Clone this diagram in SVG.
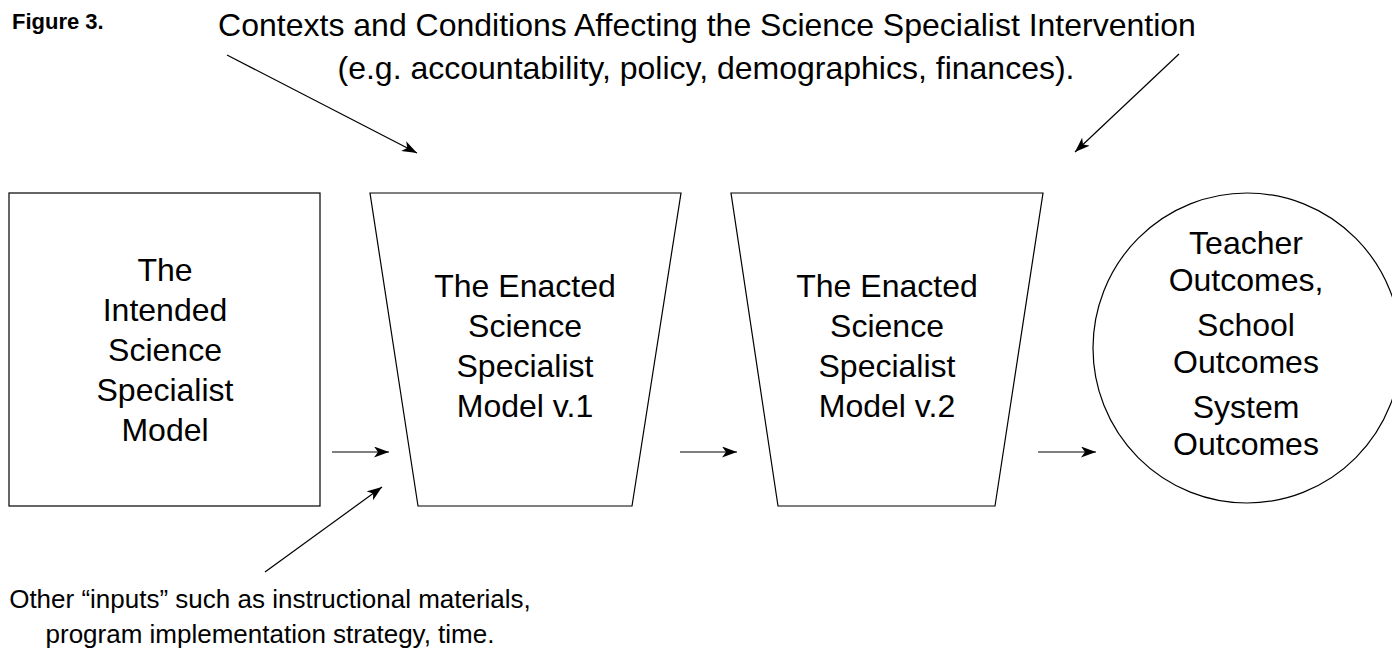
<svg xmlns="http://www.w3.org/2000/svg" width="1392" height="654" viewBox="0 0 1392 654">
<style>
.t{font-family:"Liberation Sans",Arial,Helvetica,sans-serif;font-size:32px;fill:#000;text-anchor:middle}
.b{font-size:26px}
.s{fill:#fff;stroke:#000;stroke-width:1.2}
.c{stroke:#000;stroke-width:1.2;fill:none;marker-end:url(#ah)}
</style>
<defs>
<marker id="ah" markerWidth="16" markerHeight="11" refX="15" refY="5.5" orient="auto" markerUnits="userSpaceOnUse">
<path d="M0,0 L15,5.5 L0,11 L4,5.5 z" fill="#000"/>
</marker>
</defs>
<rect width="1392" height="654" fill="#fff"/>
<g id="figlabel"><text x="12" y="29" style="font-family:'Liberation Sans',Arial,sans-serif;font-size:22px;font-weight:bold">Figure 3.</text></g>
<g id="contexts">
<text class="t" x="707" y="36">Contexts and Conditions Affecting the Science Specialist Intervention</text>
<text class="t" x="706" y="79">(e.g. accountability, policy, demographics, finances).</text>
</g>
<g id="intended">
<rect class="s" x="9" y="193" width="311" height="313"/>
<text class="t" x="165" y="281">The</text>
<text class="t" x="165" y="321">Intended</text>
<text class="t" x="165" y="361">Science</text>
<text class="t" x="165" y="401">Specialist</text>
<text class="t" x="165" y="441">Model</text>
</g>
<g id="enacted1">
<polygon class="s" points="370,193 681,193 632,506 418,506"/>
<text class="t" x="525" y="297">The Enacted</text>
<text class="t" x="525" y="337">Science</text>
<text class="t" x="525" y="377">Specialist</text>
<text class="t" x="525" y="417">Model v.1</text>
</g>
<g id="enacted2">
<polygon class="s" points="731,193 1043,193 995,506 778,506"/>
<text class="t" x="887" y="297">The Enacted</text>
<text class="t" x="887" y="337">Science</text>
<text class="t" x="887" y="377">Specialist</text>
<text class="t" x="887" y="417">Model v.2</text>
</g>
<g id="outcomes">
<ellipse class="s" cx="1247" cy="348" rx="154" ry="155"/>
<text class="t" x="1246" y="254">Teacher</text>
<text class="t" x="1246" y="291">Outcomes,</text>
<text class="t" x="1246" y="336">School</text>
<text class="t" x="1246" y="373">Outcomes</text>
<text class="t" x="1246" y="418">System</text>
<text class="t" x="1246" y="455">Outcomes</text>
</g>
<g id="inputs">
<text class="t b" x="270" y="608">Other “inputs” such as instructional materials,</text>
<text class="t b" x="270" y="643">program implementation strategy, time.</text>
</g>
<g id="connectors">
<line class="c" x1="227" y1="55" x2="417" y2="153"/>
<line class="c" x1="1179" y1="54" x2="1075" y2="152"/>
<line class="c" x1="332" y1="452" x2="389" y2="452"/>
<line class="c" x1="680" y1="452" x2="737" y2="452"/>
<line class="c" x1="1038" y1="452" x2="1096" y2="452"/>
<line class="c" x1="265" y1="572" x2="382" y2="487"/>
</g>
</svg>
